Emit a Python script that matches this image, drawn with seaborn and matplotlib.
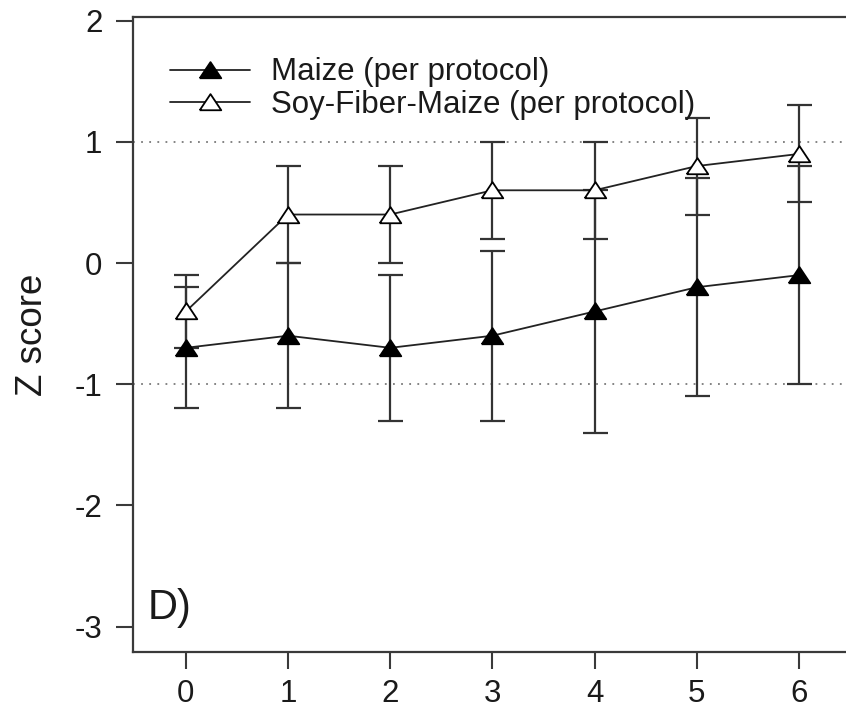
import numpy as np
import pandas as pd
import seaborn as sns
import matplotlib
matplotlib.use("Agg")
import matplotlib.pyplot as plt

# Z scores by time point for the two diet groups (per protocol)
months = [0, 1, 2, 3, 4, 5, 6]
maize_mean = [-0.7, -0.6, -0.7, -0.6, -0.4, -0.2, -0.1]
maize_err = [0.5, 0.6, 0.6, 0.7, 1.0, 0.9, 0.9]
sfm_mean = [-0.4, 0.4, 0.4, 0.6, 0.6, 0.8, 0.9]
sfm_err = [0.3, 0.4, 0.4, 0.4, 0.4, 0.4, 0.4]
series_names = ["Maize (per protocol)", "Soy-Fiber-Maize (per protocol)"]
y_ticks = [-3, -2, -1, 0, 1, 2]
ref_levels = [-1, 1]
panel_label = "D)"

df = pd.concat([
    pd.DataFrame({"month": months, "z": maize_mean, "err": maize_err, "group": series_names[0]}),
    pd.DataFrame({"month": months, "z": sfm_mean, "err": sfm_err, "group": series_names[1]}),
])

sns.set_theme(style="white")
plt.rcParams["font.family"] = ["Liberation Sans", "DejaVu Sans"]
plt.rcParams["axes.unicode_minus"] = False

fig = plt.figure(figsize=(8.46, 7.15), dpi=100)
ax = fig.add_axes([133 / 846, 1 - 652 / 715, 1 - 133 / 846, (652 - 17) / 715])

# flattened triangle marker
tri = [(-1, -0.72), (1, -0.72), (0, 0.78), (-1, -0.72)]
err_col = "#333333"

for ref in ref_levels:
    ax.axhline(ref, color="#7a7a7a", lw=1.3, ls=(0, (1, 3.5)), zorder=1)

for name in series_names:
    sub = df[df["group"] == name]
    ax.errorbar(sub["month"], sub["z"], yerr=sub["err"], fmt="none",
                ecolor=err_col, elinewidth=1.6, capsize=9, capthick=1.6, zorder=2)

for name, face in zip(series_names, ["black", "white"]):
    sub = df[df["group"] == name]
    sns.lineplot(data=sub, x="month", y="z", ax=ax, color="#222222", lw=1.3,
                 marker=tri, markersize=15.5, markerfacecolor=face,
                 markeredgecolor="black", markeredgewidth=1.3,
                 label=name, errorbar=None, zorder=3)

ax.set_xlim(-0.517, 6.46)
ax.set_ylim(-3.21, 2.03)
ax.set_xticks(months)
ax.set_yticks(y_ticks)
ax.set_xlabel("")
ax.set_ylabel("Z score", fontsize=26.5, labelpad=18, color="#1a1a1a")

for side in ["left", "top", "bottom"]:
    ax.spines[side].set_color("#3a3a3a")
    ax.spines[side].set_linewidth(1.6)
ax.spines["right"].set_visible(False)

ax.tick_params(axis="both", which="major", direction="out", length=12, width=1.5,
               color="#3a3a3a", labelsize=22.5, labelcolor="#1a1a1a",
               left=True, bottom=True)
ax.tick_params(axis="y", pad=10)
ax.tick_params(axis="x", pad=7.5)

ax.text(0.021, 0.07, panel_label, transform=ax.transAxes, fontsize=30,
        color="#1a1a1a", ha="left", va="center")

leg = ax.legend(loc="upper left", bbox_to_anchor=(0.034, 0.956), frameon=False,
                fontsize=22.5, handlelength=2.56, handletextpad=0.67,
                labelspacing=0.08, borderaxespad=0)
for t in leg.get_texts():
    t.set_color("#1a1a1a")

fig.savefig("out.png", dpi=100)
